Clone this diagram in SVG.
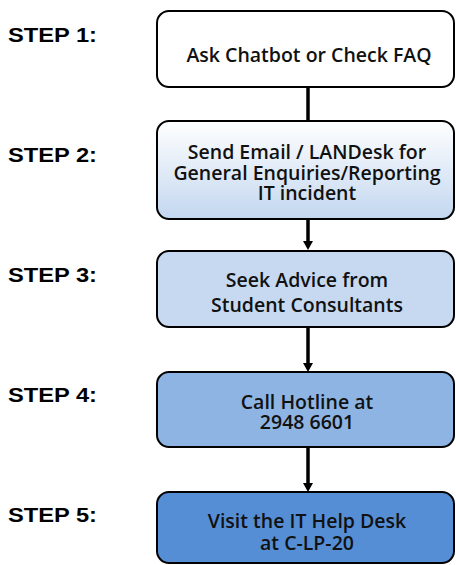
<svg xmlns="http://www.w3.org/2000/svg" width="456" height="565" viewBox="0 0 456 565">
<defs>
<linearGradient id="g2" x1="0" y1="0" x2="0" y2="1">
<stop offset="0" stop-color="#ffffff"/>
<stop offset="1" stop-color="#c3d7ef"/>
</linearGradient>
<style>
.step{font-family:"Liberation Sans",Arial,sans-serif;font-weight:bold;font-size:20px;fill:#000}
.box{stroke:#000;stroke-width:2}
.t{font-family:"Open Sans","Noto Sans",sans-serif;font-weight:600;font-size:19.5px;fill:#111;text-anchor:middle}
.c{stroke:#000;stroke-width:3.5;fill:none}
</style>
</defs>
<rect width="456" height="565" fill="#fff"/>
<g id="labels">
<text class="step" x="8" y="42" textLength="89" lengthAdjust="spacingAndGlyphs">STEP 1:</text>
<text class="step" x="8" y="162" textLength="89" lengthAdjust="spacingAndGlyphs">STEP 2:</text>
<text class="step" x="8" y="282" textLength="89" lengthAdjust="spacingAndGlyphs">STEP 3:</text>
<text class="step" x="8" y="402" textLength="89" lengthAdjust="spacingAndGlyphs">STEP 4:</text>
<text class="step" x="8" y="522" textLength="89" lengthAdjust="spacingAndGlyphs">STEP 5:</text>
</g>
<g id="connectors">
<line class="c" x1="308" y1="87" x2="308" y2="121"/>
<line class="c" x1="308" y1="219" x2="308" y2="241"/>
<path d="M303,241 L313,241 L308,250 Z"/>
<line class="c" x1="308" y1="327" x2="308" y2="363"/>
<path d="M303,363 L313,363 L308,372 Z"/>
<line class="c" x1="308" y1="447" x2="308" y2="483"/>
<path d="M303,483 L313,483 L308,492 Z"/>
</g>
<g id="step1">
<rect class="box" x="157" y="11" width="297" height="76" rx="12" fill="#fff" stroke="#2a0808"/>
<text class="t" x="309" y="62">Ask Chatbot or Check FAQ</text>
</g>
<g id="step2">
<rect class="box" x="157" y="121" width="297" height="98" rx="12" fill="url(#g2)"/>
<text class="t" x="307" y="159">Send Email / LANDesk for</text>
<text class="t" x="307" y="180">General Enquiries/Reporting</text>
<text class="t" x="307" y="200">IT incident</text>
</g>
<g id="step3">
<rect class="box" x="157" y="251" width="297" height="76" rx="12" fill="#c6d9f1" stroke="#2a0808"/>
<text class="t" x="307" y="287">Seek Advice from</text>
<text class="t" x="307" y="312">Student Consultants</text>
</g>
<g id="step4">
<rect class="box" x="157" y="372" width="297" height="75" rx="12" fill="#8eb4e3"/>
<text class="t" x="307" y="409">Call Hotline at</text>
<text class="t" x="307" y="429">2948 6601</text>
</g>
<g id="step5">
<rect class="box" x="157" y="492" width="297" height="71" rx="12" fill="#558ed5"/>
<text class="t" x="307" y="528">Visit the IT Help Desk</text>
<text class="t" x="307" y="550">at C-LP-20</text>
</g>
</svg>
